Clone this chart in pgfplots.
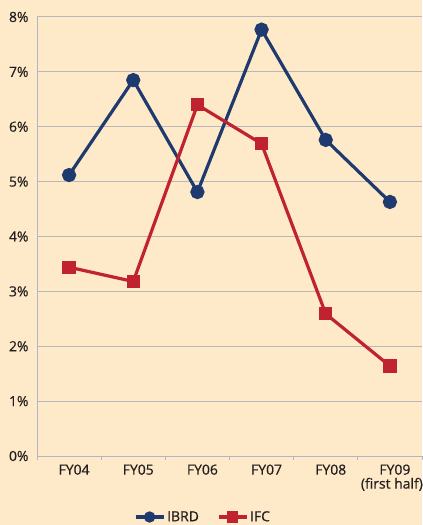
\documentclass[border=0pt]{standalone}
\usepackage{pgfplots}
\pgfplotsset{compat=1.18}
\usepackage{fontspec}
\setmainfont{Open Sans}[FakeBold=0.5]
\definecolor{bg}{HTML}{FEEAC8}
\definecolor{navy}{HTML}{1F3A6E}
\definecolor{ifcred}{HTML}{C0222F}
\definecolor{gridc}{HTML}{B8B8B8}
\definecolor{axc}{HTML}{B0B6C4}
\definecolor{txt}{HTML}{231F20}
\begin{document}
\begin{tikzpicture}[x=1bp,y=1bp]
\fill[bg] (-37,-69) rectangle (385,456);
\begin{axis}[
  at={(0,0)}, anchor=south west,
  scale only axis, width=385bp, height=439bp,
  xmin=-0.5, xmax=5.5, ymin=0, ymax=8,
  axis x line*=bottom, axis y line*=left,
  axis line style={axc, line width=1pt, -},
  xtick={-0.5,0.5,1.5,2.5,3.5,4.5,5.5},
  x tick label as interval,
  xticklabels={FY04,FY05,FY06,FY07,FY08,{FY09\\[-2bp]\hspace*{-6bp}(first half)}},
  x tick label style={align=center, font=\fontsize{14}{16}\selectfont, text=txt, yshift=-1bp, xshift=5bp},
  major x tick style={axc, line width=1pt},
  tick align=outside,
  major tick length=4bp,
  ytick={0,1,...,8},
  yticklabels={0\%,1\%,2\%,3\%,4\%,5\%,6\%,7\%,8\%},
  y tick label style={font=\fontsize{14}{16}\selectfont, text=txt, xshift=-1bp},
  major y tick style={draw=none},
  ymajorgrids, major grid style={gridc, line width=1pt},
  clip=false,
  legend style={at={(166bp,-61bp)}, anchor=center, draw=none, fill=none,
     legend columns=2, font=\fontsize{14}{16}\selectfont, text=txt,
     /tikz/every even column/.append style={column sep=16bp}},
  legend image code/.code={\draw[#1, line width=3bp] (0bp,0bp) -- (28bp,0bp); \draw[#1, mark size=4bp, mark repeat=2, mark phase=2] plot coordinates {(0bp,0bp) (14bp,0bp) (28bp,0bp)};},
]
\addplot[navy, line width=3.2bp, mark=*, mark size=5.5bp, mark options={fill=navy}] coordinates {
(0,5.12) (1,6.85) (2,4.81) (3,7.77) (4,5.76) (5,4.63)};
\addlegendentry{IBRD}
\addplot[ifcred, line width=3.2bp, mark=square*, mark size=5bp, mark options={fill=ifcred}] coordinates {
(0,3.44) (1,3.18) (2,6.40) (3,5.69) (4,2.59) (5,1.64)};
\addlegendentry{IFC}
\end{axis}
\pgfresetboundingbox
\useasboundingbox (-37,-69) rectangle (385,456);
\end{tikzpicture}
\end{document}
